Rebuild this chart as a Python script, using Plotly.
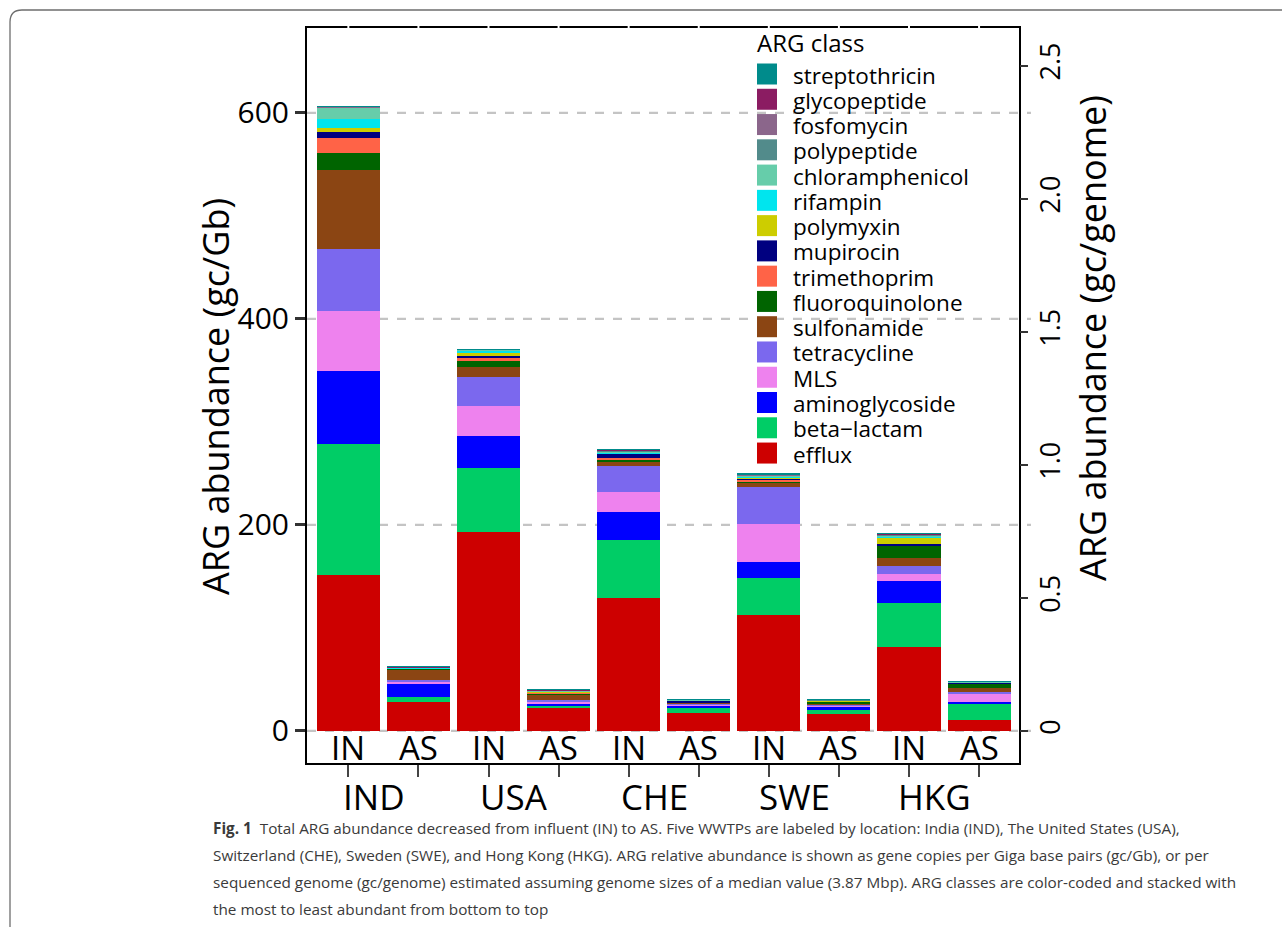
import plotly.graph_objects as go

# ---------------- data ----------------
samples = ["IN", "AS", "IN", "AS", "IN", "AS", "IN", "AS", "IN", "AS"]
sites = ["IND", "USA", "CHE", "SWE", "HKG"]

# stacked bottom -> top
classes = ["efflux", "beta\u2212lactam", "aminoglycoside", "MLS", "tetracycline",
           "sulfonamide", "fluoroquinolone", "trimethoprim", "mupirocin", "polymyxin",
           "rifampin", "chloramphenicol", "polypeptide", "fosfomycin", "glycopeptide",
           "streptothricin"]

colors = ["#CD0000", "#00CD66", "#0000FF", "#EE82EE", "#7B68EE",
          "#8B4513", "#006400", "#FF6347", "#000080", "#CDCD00",
          "#00E5EE", "#66CDAA", "#528B8B", "#8B668B", "#8B1C62",
          "#008B8B"]

efflux          = [151.5, 27.9, 193.2, 23.0, 129.4, 17.8, 112.6, 16.3, 81.2, 10.7]
beta_lactam     = [126.8, 5.4, 62.1, 1.3, 56.0, 4.8, 35.6, 4.5, 43.4, 15.5]
aminoglycoside  = [71.5, 13.0, 31.1, 1.6, 27.5, 2.3, 15.6, 2.6, 21.3, 2.3]
mls             = [58.2, 1.6, 29.1, 2.6, 18.8, 0.8, 37.2, 0.9, 6.5, 7.1]
tetracycline    = [59.7, 1.6, 28.5, 1.6, 25.9, 1.1, 35.6, 0.7, 7.8, 2.3]
sulfonamide     = [77.0, 10.5, 9.0, 5.5, 3.9, 0.8, 4.5, 2.0, 8.1, 4.1]
fluoroquinolone = [16.5, 0.3, 6.5, 0.8, 1.6, 0.3, 1.5, 1.3, 11.6, 4.2]
trimethoprim    = [14.5, 0.2, 2.9, 0.5, 1.6, 0.2, 1.2, 0.3, 0.5, 0.2]
mupirocin       = [5.9, 0.3, 2.0, 0.8, 4.2, 1.6, 1.5, 0.3, 1.5, 0.2]
polymyxin       = [3.8, 0.1, 3.3, 0.3, 0.8, 0.1, 0.8, 0.2, 5.8, 0.3]
rifampin        = [8.8, 0.3, 1.2, 0.6, 0.6, 0.2, 0.6, 0.2, 0.8, 0.5]
chloramphenicol = [10.7, 0.5, 1.2, 0.6, 0.8, 0.3, 1.0, 0.6, 1.2, 0.5]
polypeptide     = [0.8, 0.3, 0.3, 0.3, 1.0, 0.2, 0.8, 0.5, 0.6, 0.2]
fosfomycin      = [0.3, 0.1, 0.2, 0.2, 0.6, 0.1, 0.6, 0.2, 0.8, 0.1]
glycopeptide    = [0.2, 0.1, 0.1, 0.1, 0.2, 0.05, 0.2, 0.1, 0.3, 0.05]
streptothricin  = [0.2, 0.1, 0.1, 0.1, 0.2, 0.05, 0.2, 0.1, 0.3, 0.05]

values = [efflux, beta_lactam, aminoglycoside, mls, tetracycline, sulfonamide,
          fluoroquinolone, trimethoprim, mupirocin, polymyxin, rifampin,
          chloramphenicol, polypeptide, fosfomycin, glycopeptide, streptothricin]

left_ticks = [0, 200, 400, 600]
right_ticks = [0, 0.5, 1.0, 1.5, 2.0, 2.5]
right_labels = ["0", "0.5", "1.0", "1.5", "2.0", "2.5"]
genome_factor = 3.87e6 / 1e9   # gc/Gb -> gc/genome

left_title = "ARG abundance (gc/Gb)"
right_title = "ARG abundance (gc/genome)"
legend_title = "ARG class"

caption = [
    "<b>Fig. 1</b>  Total ARG abundance decreased from influent (IN) to AS. Five WWTPs are labeled by location: India (IND), The United States (USA),",
    "Switzerland (CHE), Sweden (SWE), and Hong Kong (HKG). ARG relative abundance is shown as gene copies per Giga base pairs (gc/Gb), or per",
    "sequenced genome (gc/genome) estimated assuming genome sizes of a median value (3.87 Mbp). ARG classes are color-coded and stacked with",
    "the most to least abundant from bottom to top",
]

# ---------------- layout geometry ----------------
W, H = 1282, 927
L, R, T, B = 307, 1019, 28, 763
FONT = "Open Sans"

def px(xp):
    return (xp - L) / (R - L)

def py(yp):
    return (B - yp) / (B - T)

xpos = list(range(1, len(samples) + 1))
yrange = [-31.1, 682.5]

fig = go.Figure()
for name, col, vals in zip(classes, colors, values):
    fig.add_trace(go.Bar(x=xpos, y=vals, name=name, marker_color=col,
                         marker_line_width=0, width=0.9, showlegend=False))
# invisible trace to activate right axis
fig.add_trace(go.Scatter(x=[xpos[0]], y=[0], yaxis="y2", mode="markers",
                         marker_opacity=0, showlegend=False, hoverinfo="skip"))

shapes = []
# dashed gridlines (extend slightly past right border)
for v in left_ticks:
    shapes.append(dict(type="line", xref="paper", yref="y", x0=0, x1=px(1031),
                       y0=v, y1=v, line=dict(color="#C4C4C4", width=2.2, dash="dash"),
                       layer="below"))
# small white breaks on top border at category positions
for xv in xpos:
    shapes.append(dict(type="line", xref="x", yref="paper", x0=xv, x1=xv,
                       y0=0.994, y1=1.006, line=dict(color="white", width=2),
                       layer="above"))
# caption frame with rounded top-left corner
x10, x22, xr = px(10), px(22), px(1290)
y10, y22, yb = py(10), py(22), py(935)
shapes.append(dict(type="path", xref="paper", yref="paper",
                   path=f"M {xr},{y10} L {x22},{y10} Q {x10},{y10} {x10},{y22} L {x10},{yb}",
                   line=dict(color="#6E6E6E", width=1.3)))

annotations = []
# axis titles
annotations.append(dict(xref="paper", yref="paper", x=px(215), y=py(397), text=left_title,
                        showarrow=False, textangle=-90, xanchor="center", yanchor="middle",
                        font=dict(family=FONT, size=36, color="black")))
annotations.append(dict(xref="paper", yref="paper", x=px(1092), y=py(338), text=right_title,
                        showarrow=False, textangle=-90, xanchor="center", yanchor="middle",
                        font=dict(family=FONT, size=36, color="black")))

# custom legend
annotations.append(dict(xref="paper", yref="paper", x=px(755), y=py(42), text=legend_title,
                        showarrow=False, xanchor="left", yanchor="middle",
                        font=dict(family=FONT, size=24, color="black")))
legend_order = list(range(len(classes)))[::-1]
for i, k in enumerate(legend_order):
    yc = 74 + 25.27 * i
    shapes.append(dict(type="rect", xref="paper", yref="paper",
                       x0=px(757), x1=px(777), y0=py(yc - 10.5), y1=py(yc + 10.5),
                       fillcolor=colors[k], line=dict(width=0)))
    annotations.append(dict(xref="paper", yref="paper", x=px(791), y=py(yc + 1),
                            text=classes[k], showarrow=False, xanchor="left",
                            yanchor="middle",
                            font=dict(family=FONT, size=22.5, color="black")))

# IN / AS labels inside panel
for xv, s in zip(xpos, samples):
    annotations.append(dict(xref="x", yref="y", x=xv, y=-16.5, text=s, showarrow=False,
                            xanchor="center", yanchor="middle",
                            font=dict(family=FONT, size=33, color="black")))
# site labels below axis
for j, s in enumerate(sites):
    annotations.append(dict(xref="x", yref="paper", x=2 * j + 1.37, y=py(796), text=s,
                            showarrow=False, xanchor="center", yanchor="middle",
                            font=dict(family=FONT, size=35, color="black")))
# caption lines
cap_y = [828, 855, 882, 909]
for line, yc in zip(caption, cap_y):
    annotations.append(dict(xref="paper", yref="paper", x=px(211), y=py(yc), text=line,
                            showarrow=False, xanchor="left", yanchor="middle",
                            font=dict(family=FONT, size=15.3, color="#3A3A3A")))

fig.update_layout(
    width=W, height=H,
    margin=dict(l=L, r=W - R, t=T, b=H - B, pad=0),
    paper_bgcolor="white", plot_bgcolor="white",
    barmode="stack", bargap=0.1,
    font=dict(family=FONT, color="black"),
    xaxis=dict(range=[0.41, 10.57], tickvals=xpos, ticktext=[""] * len(xpos),
               ticks="outside", ticklen=12, tickwidth=1.5, tickcolor="#444",
               showgrid=False, zeroline=False, showline=True, linecolor="black",
               linewidth=2, mirror=True),
    yaxis=dict(range=yrange, tickvals=left_ticks, ticks="outside", ticklen=10,
               tickwidth=2.5, tickcolor="#333", showgrid=False, zeroline=False,
               showline=True, linecolor="black", linewidth=2, mirror=True,
               tickfont=dict(family=FONT, size=30, color="black")),
    yaxis2=dict(range=[yrange[0] * genome_factor, yrange[1] * genome_factor],
                overlaying="y", side="right", tickvals=right_ticks,
                ticktext=right_labels,
                ticks="outside", ticklen=8, tickwidth=2, tickcolor="#333",
                tickangle=-90, showgrid=False, zeroline=False, showline=False,
                tickfont=dict(family=FONT, size=27, color="black")),
    shapes=shapes, annotations=annotations,
)

fig.write_html("out.html", config={"displayModeBar": False},
               post_script="document.body.style.margin='0px';document.body.style.overflow='hidden';")
